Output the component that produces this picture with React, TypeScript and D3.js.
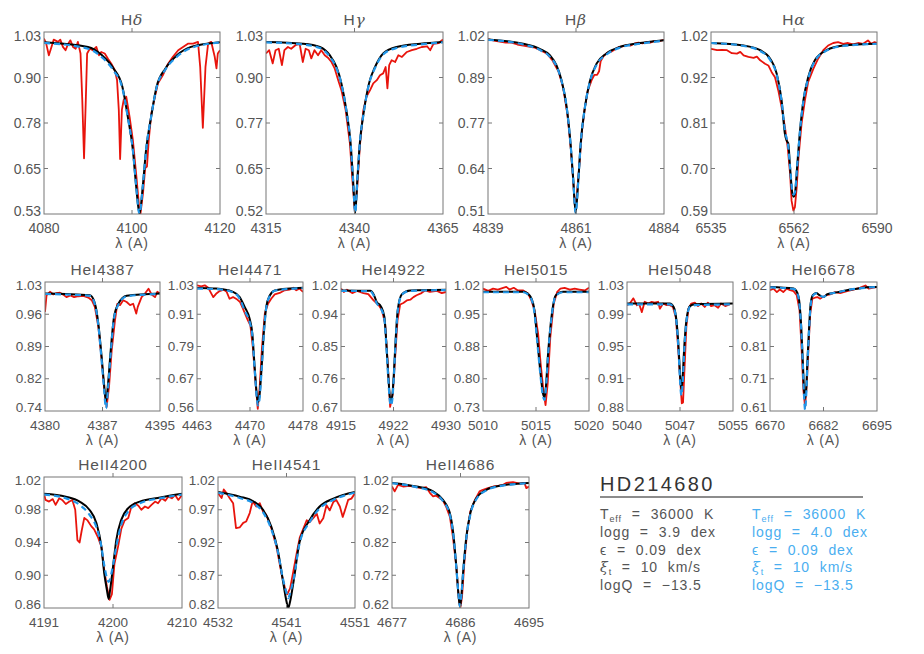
import * as d3 from "d3";

type Pt = [number, number];

// ---- panel labels and axes ----
const TITLES = ["Hδ", "Hγ", "Hβ", "Hα", "HeI4387", "HeI4471", "HeI4922", "HeI5015", "HeI5048", "HeI6678", "HeII4200", "HeII4541", "HeII4686"];

const X_DOMAINS: Pt[] = [
  [4080, 4120], [4315, 4365], [4839, 4884], [6535, 6590],
  [4380, 4395], [4463, 4478], [4915, 4930], [5010, 5020], [5040, 5055], [6670, 6695],
  [4191, 4210], [4532, 4551], [4677, 4695],
];
const Y_DOMAINS: Pt[] = [
  [0.53, 1.03], [0.52, 1.03], [0.51, 1.02], [0.59, 1.02],
  [0.74, 1.03], [0.56, 1.03], [0.67, 1.02], [0.73, 1.02], [0.88, 1.03], [0.61, 1.02],
  [0.86, 1.02], [0.82, 1.02], [0.62, 1.02],
];
const X_TICK_LABELS = [
  ["4080", "4100", "4120"], ["4315", "4340", "4365"], ["4839", "4861", "4884"], ["6535", "6562", "6590"],
  ["4380", "4387", "4395"], ["4463", "4470", "4478"], ["4915", "4922", "4930"], ["5010", "5015", "5020"], ["5040", "5047", "5055"], ["6670", "6682", "6695"],
  ["4191", "4200", "4210"], ["4532", "4541", "4551"], ["4677", "4686", "4695"],
];
const Y_TICK_LABELS = [
  ["0.53", "0.65", "0.78", "0.90", "1.03"], ["0.52", "0.65", "0.77", "0.90", "1.03"], ["0.51", "0.64", "0.77", "0.89", "1.02"], ["0.59", "0.70", "0.81", "0.92", "1.02"],
  ["0.74", "0.82", "0.89", "0.96", "1.03"], ["0.56", "0.67", "0.79", "0.91", "1.03"], ["0.67", "0.76", "0.85", "0.94", "1.02"], ["0.73", "0.80", "0.88", "0.95", "1.02"], ["0.88", "0.91", "0.95", "0.99", "1.03"], ["0.61", "0.71", "0.81", "0.92", "1.02"],
  ["0.86", "0.90", "0.94", "0.98", "1.02"], ["0.82", "0.87", "0.92", "0.97", "1.02"], ["0.62", "0.72", "0.82", "0.92", "1.02"],
];

// ---- observed spectra (red) ----
const OBS_HD: Pt[] = [[4080.0,1.012],[4080.5,0.998],[4081.1,0.966],[4081.7,0.989],[4082.2,1.009],[4083.2,1.003],[4083.7,1.009],[4084.3,0.989],[4084.9,0.98],[4085.5,0.998],[4086.0,1.007],[4086.6,0.989],[4087.2,0.984],[4087.7,1.003],[4088.3,0.971],[4088.7,0.843],[4089.1,0.683],[4089.5,0.843],[4089.8,0.971],[4090.4,0.984],[4091.1,0.98],[4091.9,0.989],[4092.5,0.966],[4093.0,0.975],[4093.8,0.971],[4094.5,0.957],[4095.3,0.943],[4096.1,0.925],[4096.6,0.898],[4097.0,0.816],[4097.3,0.681],[4097.7,0.816],[4098.1,0.843],[4098.7,0.852],[4099.5,0.793],[4100.2,0.733],[4101.0,0.633],[4101.6,0.551],[4101.9,0.528],[4102.5,0.587],[4103.0,0.656],[4103.4,0.66],[4103.8,0.733],[4104.4,0.806],[4105.2,0.852],[4105.9,0.889],[4107.0,0.911],[4108.2,0.943],[4109.3,0.962],[4110.5,0.98],[4111.6,0.989],[4112.7,0.998],[4113.9,0.998],[4115.0,1.003],[4115.5,0.934],[4116.1,0.767],[4116.7,0.934],[4117.3,0.998],[4118.0,1.003],[4118.8,0.962],[4119.2,0.93],[4119.5,0.971],[4120.0,0.98]];
const OBS_HG: Pt[] = [[4315.0,0.97],[4315.9,0.979],[4316.9,0.942],[4317.7,0.979],[4318.6,0.983],[4319.5,0.937],[4320.2,0.979],[4321.2,0.988],[4322.1,0.983],[4323.3,0.993],[4324.5,0.997],[4325.4,0.946],[4326.2,0.983],[4327.1,0.979],[4327.8,0.956],[4328.7,0.979],[4329.7,0.965],[4330.6,0.979],[4331.6,0.965],[4332.5,0.958],[4333.5,0.946],[4334.4,0.928],[4335.4,0.895],[4336.3,0.867],[4337.5,0.811],[4338.7,0.718],[4339.4,0.616],[4340.1,0.527],[4340.8,0.597],[4341.5,0.709],[4342.5,0.811],[4343.4,0.849],[4344.4,0.867],[4345.3,0.886],[4346.3,0.895],[4347.2,0.909],[4348.1,0.914],[4348.8,0.932],[4349.3,0.872],[4349.8,0.937],[4350.5,0.951],[4351.5,0.946],[4352.4,0.965],[4353.4,0.96],[4354.8,0.974],[4356.2,0.979],[4357.6,0.983],[4359.0,0.988],[4360.5,0.99],[4361.4,0.979],[4362.3,0.997],[4363.8,0.999],[4365.0,1.009]];
const OBS_HB: Pt[] = [[4839,1.0],[4840.5,0.996],[4842,0.993],[4843.5,0.99],[4845,0.99],[4846.5,0.985],[4848,0.982],[4849.5,0.979],[4851,0.976],[4852.5,0.968],[4854,0.96],[4855.5,0.94],[4857,0.91],[4858.2,0.865],[4859.3,0.79],[4860.2,0.69],[4860.8,0.6],[4861.2,0.535],[4861.7,0.56],[4862.3,0.64],[4863,0.74],[4863.8,0.81],[4864.5,0.855],[4865.5,0.885],[4866.2,0.9],[4866.9,0.9],[4867.4,0.91],[4867.8,0.938],[4868.5,0.952],[4869.5,0.962],[4870.5,0.965],[4871.5,0.972],[4872.5,0.978],[4873.5,0.98],[4874.5,0.984],[4875.5,0.982],[4876.5,0.988],[4877.5,0.99],[4878.5,0.988],[4879.5,0.992],[4880.5,0.99],[4881.5,0.995],[4882.5,0.994],[4884,0.998]];
const OBS_HA: Pt[] = [[6535,0.98],[6537,0.977],[6538.6,0.978],[6540.3,0.977],[6541.9,0.97],[6543.6,0.969],[6544.7,0.973],[6545.8,0.965],[6547.4,0.961],[6549.1,0.959],[6550.2,0.962],[6551.3,0.953],[6552.9,0.945],[6554,0.941],[6555.1,0.925],[6556.2,0.913],[6557.3,0.882],[6558.4,0.842],[6559.5,0.795],[6560.4,0.748],[6561.2,0.685],[6561.7,0.621],[6562.3,0.598],[6562.8,0.606],[6563.4,0.653],[6564,0.724],[6565,0.803],[6566.1,0.858],[6567.2,0.902],[6568.9,0.933],[6570.5,0.957],[6572.2,0.977],[6573.8,0.988],[6575.5,0.994],[6577.1,0.996],[6578.8,0.992],[6580.4,0.994],[6582.1,0.991],[6583.7,0.994],[6585.4,0.992],[6587,1.0],[6588.1,0.992],[6589.2,0.996],[6590,0.994]];
const OBS_4387: Pt[] = [[4380,0.963],[4380.2,1.0],[4380.65,1.008],[4381.1,1.002],[4381.5,1.005],[4381.95,1.006],[4382.5,1.0],[4382.8,0.996],[4383.3,1.0],[4383.8,0.996],[4384.35,0.998],[4385,0.999],[4385.65,0.995],[4386.1,0.989],[4386.5,0.974],[4386.96,0.929],[4387.4,0.854],[4387.74,0.786],[4388.04,0.749],[4388.35,0.794],[4388.7,0.876],[4389.13,0.944],[4389.43,0.981],[4389.78,0.978],[4390.2,0.989],[4390.65,0.985],[4391.1,0.978],[4391.5,0.981],[4391.9,0.959],[4392.1,0.974],[4392.6,0.996],[4393.04,1.004],[4393.5,1.015],[4393.9,1.002],[4394.35,0.996],[4394.65,1.008],[4395,1.004]];
const OBS_4471: Pt[] = [[4463,1.018],[4463.6,1.014],[4464.1,1.018],[4464.6,1.009],[4464.9,0.994],[4465.3,0.975],[4465.7,0.987],[4466.2,0.997],[4466.8,1.002],[4467.2,0.994],[4467.6,0.969],[4468.1,0.975],[4468.7,0.966],[4469.1,0.957],[4469.5,0.933],[4469.9,0.908],[4470.2,0.89],[4470.55,0.872],[4470.9,0.793],[4471.25,0.672],[4471.6,0.568],[4471.87,0.647],[4472.2,0.793],[4472.6,0.915],[4473.05,0.951],[4473.5,0.969],[4474,0.985],[4474.7,0.99],[4475.4,1.0],[4476.1,1.002],[4476.6,1.009],[4477.05,1.0],[4477.5,1.006],[4478,0.994]];
const OBS_4922: Pt[] = [[4915,1.002],[4915.4,0.993],[4915.85,0.999],[4916.6,0.99],[4917.3,0.996],[4918.2,0.99],[4918.9,0.987],[4919.65,0.97],[4920.4,0.957],[4920.85,0.943],[4921.3,0.907],[4921.65,0.808],[4922.02,0.681],[4922.4,0.717],[4922.74,0.817],[4923.07,0.916],[4923.45,0.959],[4923.9,0.963],[4924.4,0.97],[4924.9,0.972],[4925.35,0.979],[4925.8,0.984],[4926.5,0.99],[4927,0.997],[4927.7,0.993],[4928.7,0.996],[4929.4,0.99],[4930,0.993]];
const OBS_5015: Pt[] = [[5010,1.005],[5010.5,1.0],[5010.95,1.005],[5011.4,1.003],[5011.9,1.007],[5012.2,1.009],[5012.5,1.003],[5012.9,1.007],[5013.3,1.001],[5013.8,1.001],[5014.25,0.994],[5014.56,0.979],[5014.87,0.956],[5015.2,0.904],[5015.44,0.836],[5015.7,0.776],[5015.9,0.743],[5016.1,0.791],[5016.35,0.896],[5016.67,0.971],[5017,0.998],[5017.3,1.005],[5017.7,1.007],[5018.2,1.003],[5018.65,1.005],[5019.1,1.003],[5019.6,1.001],[5020,1.007]];
const OBS_5048: Pt[] = [[5040,1.003],[5040.4,1.005],[5040.9,1.011],[5041.4,1.003],[5041.7,1.005],[5042.1,0.995],[5042.5,1.007],[5043,1.005],[5043.5,1.007],[5043.9,1.006],[5044.4,1.007],[5044.65,0.999],[5045.1,1.005],[5045.6,1.003],[5046.06,1.003],[5046.5,1.001],[5046.9,0.989],[5047.2,0.958],[5047.56,0.912],[5047.75,0.889],[5047.93,0.89],[5048.17,0.935],[5048.4,0.978],[5048.7,0.999],[5049.1,1.005],[5049.6,1.006],[5050.05,1.002],[5050.5,1.005],[5051,1.001],[5051.45,1.006],[5051.9,1.002],[5052.4,1.003],[5052.9,1.0],[5053.3,1.005],[5053.9,1.002],[5054.5,1.004]];
const OBS_6678: Pt[] = [[6670,0.994],[6670.8,0.999],[6671.6,0.988],[6672.3,0.996],[6673.1,0.988],[6673.9,0.999],[6674.7,0.994],[6675.5,0.991],[6676.25,0.978],[6676.9,0.93],[6677.4,0.803],[6677.8,0.676],[6678.2,0.623],[6678.6,0.697],[6679,0.813],[6679.4,0.919],[6679.9,0.967],[6680.5,0.97],[6681.1,0.972],[6681.7,0.967],[6682.3,0.972],[6683.1,0.978],[6684.1,0.981],[6685.2,0.988],[6686.4,0.985],[6688,0.991],[6689.5,0.996],[6691.1,1.002],[6692.3,1.009],[6693.05,0.999],[6694.2,1.002],[6695,1.004]];
const OBS_4200: Pt[] = [[4191,1.0],[4191.2,0.992],[4191.7,0.99],[4192.2,0.993],[4192.6,0.986],[4193.1,0.994],[4193.5,0.992],[4194,0.987],[4194.5,0.99],[4194.9,0.992],[4195.3,0.98],[4195.6,0.943],[4195.9,0.94],[4196.2,0.955],[4196.55,0.97],[4197,0.967],[4197.5,0.96],[4197.9,0.956],[4198.4,0.947],[4198.9,0.935],[4199.3,0.906],[4199.66,0.886],[4200.03,0.87],[4200.35,0.877],[4200.7,0.914],[4201.2,0.935],[4201.65,0.957],[4202.1,0.967],[4202.6,0.97],[4203.04,0.984],[4203.5,0.988],[4204,0.985],[4204.4,0.98],[4204.9,0.984],[4205.35,0.982],[4205.8,0.986],[4206.3,0.99],[4206.7,0.988],[4207.2,0.994],[4207.7,0.991],[4208.1,0.996],[4208.6,0.994],[4209.05,0.998],[4209.5,0.992],[4210,0.998]];
const OBS_4541: Pt[] = [[4532,0.995],[4532.5,0.988],[4532.8,1.001],[4533.2,0.995],[4533.6,0.988],[4534.1,0.98],[4534.5,0.942],[4535,0.943],[4535.5,0.95],[4535.9,0.952],[4536.4,0.965],[4536.8,0.983],[4537.3,0.975],[4537.8,0.98],[4538.25,0.967],[4538.7,0.962],[4539.4,0.942],[4540.1,0.914],[4540.8,0.873],[4541.3,0.85],[4541.6,0.841],[4542,0.85],[4542.4,0.873],[4542.9,0.903],[4543.35,0.928],[4544.3,0.954],[4544.7,0.951],[4545.2,0.957],[4545.7,0.964],[4546.1,0.949],[4546.6,0.957],[4547.05,0.977],[4547.5,0.969],[4548,0.982],[4548.4,0.985],[4548.9,0.975],[4549.3,0.959],[4549.6,0.969],[4550.05,0.985],[4550.5,0.987],[4551,0.995]];
const OBS_4686: Pt[] = [[4677,0.991],[4677.35,0.976],[4677.8,0.996],[4678.45,0.991],[4679.3,0.993],[4680.2,0.989],[4680.85,0.986],[4681.5,0.989],[4682,0.971],[4682.4,0.961],[4682.8,0.963],[4683.25,0.956],[4683.7,0.948],[4684.1,0.93],[4684.6,0.899],[4685,0.838],[4685.45,0.746],[4685.8,0.644],[4686,0.623],[4686.2,0.654],[4686.5,0.756],[4686.85,0.848],[4687.3,0.915],[4687.9,0.95],[4688.5,0.976],[4688.95,0.981],[4689.6,0.986],[4690.3,0.991],[4690.9,0.993],[4691.6,0.996],[4692,1.002],[4692.9,1.004],[4693.8,1.0],[4694.4,1.002],[4694.65,0.986],[4695,0.991]];

// ---- model 1 (black): logg = 3.9 ----
const MOD1_HD: Pt[] = [[4080,1.002],[4090,0.989],[4093.2,0.966],[4095.8,0.93],[4097.8,0.88],[4099.05,0.797],[4100.2,0.706],[4100.95,0.606],[4101.7,0.53],[4102.45,0.606],[4103.2,0.706],[4104.35,0.797],[4105.6,0.88],[4107.6,0.93],[4110.2,0.966],[4113.4,0.989],[4120,1.002]];
const MOD1_HG: Pt[] = [[4315,1.002],[4325.4,0.997],[4330.2,0.988],[4333.0,0.965],[4334.9,0.932],[4336.3,0.886],[4337.7,0.811],[4338.9,0.718],[4339.6,0.616],[4340.2,0.523],[4340.8,0.616],[4341.5,0.718],[4342.7,0.811],[4344.1,0.886],[4345.8,0.932],[4348.1,0.97],[4351.9,0.988],[4358.6,0.997],[4365,1.002]];
const MOD1_HB: Pt[] = [[4839,0.999],[4848,0.987],[4852.2,0.973],[4854.8,0.955],[4856.5,0.927],[4857.8,0.885],[4859.1,0.811],[4860.1,0.708],[4860.8,0.606],[4861.4,0.513],[4862.1,0.606],[4862.7,0.708],[4863.8,0.811],[4865,0.88],[4866.8,0.932],[4869.3,0.96],[4872.7,0.978],[4877.9,0.989],[4884,0.997]];
const MOD1_HA: Pt[] = [[6535,0.994],[6545.8,0.988],[6551.3,0.977],[6554.6,0.957],[6556.8,0.921],[6558.4,0.858],[6559.5,0.779],[6560.1,0.763],[6560.6,0.757],[6561.2,0.7],[6562,0.637],[6562.4,0.631],[6562.8,0.637],[6563.6,0.708],[6564.5,0.787],[6565.6,0.858],[6567.2,0.913],[6569.4,0.953],[6573.3,0.977],[6578.8,0.988],[6590,0.992]];
const MOD1_4387: Pt[] = [[4380,1.004],[4385.87,1.0],[4386.52,0.981],[4386.96,0.936],[4387.39,0.861],[4387.7,0.801],[4387.96,0.762],[4388.22,0.801],[4388.57,0.876],[4389.0,0.951],[4389.57,0.981],[4390.65,0.999],[4395,1.004]];
const MOD1_4471: Pt[] = [[4463,1.008],[4465.7,1.006],[4468.1,0.994],[4469.04,0.975],[4469.75,0.939],[4470.45,0.896],[4470.83,0.842],[4471.16,0.72],[4471.5,0.611],[4471.63,0.593],[4471.82,0.611],[4472.15,0.72],[4472.48,0.854],[4472.8,0.939],[4473.3,0.981],[4474,0.999],[4476.1,1.006],[4478,1.009]];
const MOD1_4922: Pt[] = [[4915,0.997],[4919.2,0.996],[4919.65,0.987],[4920.1,0.966],[4920.7,0.954],[4921.2,0.925],[4921.45,0.862],[4921.74,0.771],[4921.98,0.708],[4922.12,0.699],[4922.3,0.708],[4922.55,0.771],[4922.8,0.862],[4923.1,0.943],[4923.7,0.987],[4924.9,0.997],[4930,0.999]];
const MOD1_5015: Pt[] = [[5010,0.998],[5013.8,0.998],[5014.4,0.99],[5014.8,0.964],[5015.1,0.896],[5015.4,0.821],[5015.66,0.769],[5015.8,0.761],[5015.9,0.776],[5016.16,0.866],[5016.5,0.949],[5016.86,0.99],[5017.55,0.998],[5020,0.998]];
const MOD1_5048: Pt[] = [[5040,1.005],[5046.06,1.005],[5046.6,1.001],[5047,0.985],[5047.3,0.954],[5047.5,0.923],[5047.7,0.905],[5047.9,0.923],[5048.1,0.954],[5048.4,0.985],[5048.9,1.002],[5049.6,1.004],[5055,1.005]];
const MOD1_6678: Pt[] = [[6670,1.004],[6675.5,0.999],[6676.4,0.985],[6676.9,0.951],[6677.3,0.877],[6677.66,0.771],[6677.97,0.676],[6678.2,0.649],[6678.44,0.676],[6678.75,0.771],[6679.14,0.877],[6679.5,0.951],[6680,0.978],[6680.8,0.985],[6681.56,0.978],[6682.5,0.972],[6683.4,0.981],[6684.8,0.985],[6686.4,0.989],[6688.75,0.996],[6691.1,1.0],[6693.4,1.004],[6695,1.004]];
const MOD1_4200: Pt[] = [[4191,0.9995],[4194,0.996],[4195.9,0.99],[4197.25,0.98],[4198.2,0.964],[4198.9,0.935],[4199.3,0.902],[4199.66,0.882],[4199.9,0.871],[4200.1,0.882],[4200.5,0.91],[4200.95,0.943],[4201.65,0.968],[4202.6,0.982],[4204.2,0.99],[4207,0.995],[4210,0.9995]];
const MOD1_4541: Pt[] = [[4532,0.997],[4535,0.99],[4536.9,0.983],[4538.25,0.97],[4539.4,0.944],[4540.3,0.908],[4541,0.862],[4541.5,0.83],[4541.75,0.82],[4542.0,0.83],[4542.5,0.862],[4543.3,0.92],[4544.7,0.954],[4546.1,0.975],[4548,0.987],[4551,0.997]];
const MOD1_4686: Pt[] = [[4677,1.002],[4680.2,0.991],[4682.4,0.976],[4683.7,0.95],[4684.6,0.91],[4685.1,0.838],[4685.45,0.746],[4685.76,0.654],[4685.94,0.623],[4686.1,0.654],[4686.4,0.746],[4686.77,0.838],[4687.3,0.91],[4688.1,0.956],[4689.4,0.981],[4691.15,0.993],[4695,1.002]];

// ---- model 2 (blue, dashed): logg = 4.0 ----
const MOD2_HD: Pt[] = [[4080,1.0],[4090,0.984],[4093.2,0.96],[4095.8,0.924],[4097.8,0.876],[4099.05,0.795],[4100.2,0.705],[4100.95,0.606],[4101.7,0.53],[4102.45,0.606],[4103.2,0.706],[4104.35,0.797],[4105.6,0.878],[4107.6,0.927],[4110.2,0.962],[4113.4,0.986],[4120,1.001]];
const MOD2_HG: Pt[] = [[4315,1.001],[4325.4,0.995],[4330.2,0.985],[4333.0,0.961],[4334.9,0.929],[4336.3,0.884],[4337.7,0.81],[4338.9,0.717],[4339.6,0.616],[4340.2,0.523],[4340.8,0.616],[4341.5,0.717],[4342.7,0.81],[4344.1,0.884],[4345.8,0.929],[4348.1,0.967],[4351.9,0.985],[4358.6,0.995],[4365,1.001]];
const MOD2_HB: Pt[] = [[4839,0.998],[4848,0.985],[4852.2,0.97],[4854.8,0.951],[4856.5,0.924],[4857.8,0.883],[4859.1,0.81],[4860.1,0.707],[4860.8,0.606],[4861.4,0.513],[4862.1,0.606],[4862.7,0.707],[4863.8,0.81],[4865,0.878],[4866.8,0.929],[4869.3,0.957],[4872.7,0.976],[4877.9,0.987],[4884,0.996]];
const MOD2_HA: Pt[] = [[6535,0.994],[6545.8,0.987],[6551.3,0.975],[6554.6,0.954],[6556.8,0.918],[6558.4,0.856],[6559.5,0.787],[6560.6,0.748],[6561.2,0.7],[6562,0.641],[6562.4,0.636],[6562.8,0.641],[6563.6,0.708],[6564.5,0.787],[6565.6,0.856],[6567.2,0.91],[6569.4,0.951],[6573.3,0.976],[6578.8,0.987],[6590,0.992]];
const MOD2_4387: Pt[] = [[4380,1.003],[4385.87,0.999],[4386.52,0.979],[4386.96,0.932],[4387.39,0.852],[4387.7,0.79],[4387.96,0.746],[4388.22,0.79],[4388.57,0.87],[4389.0,0.948],[4389.57,0.979],[4390.65,0.998],[4395,1.003]];
const MOD2_4471: Pt[] = [[4463,1.006],[4465.7,1.004],[4468.1,0.992],[4469.04,0.969],[4469.75,0.925],[4470.45,0.884],[4470.83,0.835],[4471.16,0.712],[4471.5,0.598],[4471.63,0.58],[4471.82,0.598],[4472.15,0.712],[4472.48,0.85],[4472.8,0.936],[4473.3,0.979],[4474,0.998],[4476.1,1.005],[4478,1.008]];
const MOD2_4922: Pt[] = [[4915,0.996],[4919.2,0.995],[4919.65,0.984],[4920.1,0.962],[4920.7,0.948],[4921.2,0.918],[4921.45,0.855],[4921.74,0.762],[4921.98,0.697],[4922.12,0.685],[4922.3,0.697],[4922.55,0.762],[4922.8,0.855],[4923.1,0.94],[4923.7,0.986],[4924.9,0.996],[4930,0.998]];
const MOD2_5015: Pt[] = [[5010,0.997],[5013.8,0.997],[5014.4,0.988],[5014.8,0.96],[5015.1,0.89],[5015.4,0.815],[5015.66,0.763],[5015.8,0.755],[5015.9,0.77],[5016.16,0.862],[5016.5,0.947],[5016.86,0.989],[5017.55,0.997],[5020,0.997]];
const MOD2_5048: Pt[] = [[5040,1.004],[5046.06,1.004],[5046.6,1.0],[5047,0.983],[5047.3,0.95],[5047.5,0.916],[5047.7,0.898],[5047.9,0.916],[5048.1,0.95],[5048.4,0.983],[5048.9,1.001],[5049.6,1.003],[5055,1.004]];
const MOD2_6678: Pt[] = [[6670,1.003],[6675.5,0.998],[6676.4,0.983],[6676.9,0.946],[6677.3,0.868],[6677.66,0.758],[6677.97,0.655],[6678.2,0.614],[6678.44,0.655],[6678.75,0.758],[6679.14,0.868],[6679.5,0.946],[6680,0.976],[6680.8,0.984],[6681.56,0.978],[6682.5,0.973],[6683.4,0.981],[6684.8,0.985],[6686.4,0.989],[6688.75,0.996],[6691.1,1.0],[6693.4,1.003],[6695,1.004]];
const MOD2_4200: Pt[] = [[4191,0.9985],[4194,0.994],[4195.9,0.986],[4197.25,0.974],[4198.2,0.959],[4198.9,0.935],[4199.3,0.912],[4199.9,0.892],[4200.5,0.912],[4200.95,0.935],[4201.65,0.962],[4202.6,0.978],[4204.2,0.988],[4207,0.994],[4210,0.9985]];
const MOD2_4541: Pt[] = [[4532,0.996],[4535,0.988],[4536.9,0.98],[4538.25,0.966],[4539.4,0.94],[4540.3,0.906],[4541,0.865],[4541.5,0.843],[4541.75,0.835],[4542.0,0.843],[4542.5,0.865],[4543.3,0.918],[4544.7,0.951],[4546.1,0.972],[4548,0.985],[4551,0.996]];
const MOD2_4686: Pt[] = [[4677,1.001],[4680.2,0.989],[4682.4,0.973],[4683.7,0.946],[4684.6,0.905],[4685.1,0.834],[4685.45,0.744],[4685.76,0.655],[4685.94,0.625],[4686.1,0.655],[4686.4,0.744],[4686.77,0.834],[4687.3,0.906],[4688.1,0.953],[4689.4,0.979],[4691.15,0.992],[4695,1.001]];

const OBS = [OBS_HD, OBS_HG, OBS_HB, OBS_HA, OBS_4387, OBS_4471, OBS_4922, OBS_5015, OBS_5048, OBS_6678, OBS_4200, OBS_4541, OBS_4686];
const MOD1 = [MOD1_HD, MOD1_HG, MOD1_HB, MOD1_HA, MOD1_4387, MOD1_4471, MOD1_4922, MOD1_5015, MOD1_5048, MOD1_6678, MOD1_4200, MOD1_4541, MOD1_4686];
const MOD2 = [MOD2_HD, MOD2_HG, MOD2_HB, MOD2_HA, MOD2_4387, MOD2_4471, MOD2_4922, MOD2_5015, MOD2_5048, MOD2_6678, MOD2_4200, MOD2_4541, MOD2_4686];

// ---- legend text ----
const STAR = "HD214680";
const PARAMS_1 = ["36000 K", "3.9 dex", "0.09 dex", "10 km/s", "−13.5"];
const PARAMS_2 = ["36000 K", "4.0 dex", "0.09 dex", "10 km/s", "−13.5"];

// ---- layout: [left, right, top, bottom] of every frame ----
const FRAMES = [
  [44, 220, 32, 214], [266, 443, 32, 214], [488, 664, 32, 214], [711, 877, 32, 214],
  [45, 160, 282, 411], [197, 303, 282, 411], [341, 446, 282, 411], [483, 589, 282, 411], [627, 733, 282, 411], [770, 877, 282, 411],
  [44, 182, 477, 608], [218, 355, 477, 608], [392, 529, 477, 608],
];

const FONT = "'Liberation Sans', Arial, sans-serif";
const TXT = "#555";
const AX = "#777";
const RED = "#e8140c";
const BLUE = "#2196e8";
const LBLUE = "#4aaef0";

const Title = ({ t }: { t: string }) => {
  const m = t.match(/^H([αβγδ])$/);
  if (m) return <>H<tspan fontStyle="italic" fontFamily="'DejaVu Serif', serif">{m[1]}</tspan></>;
  return <>{t}</>;
};

const Panel = ({ i }: { i: number }) => {
  const [x0, x1, y0, y1] = FRAMES[i];
  const xd = X_DOMAINS[i];
  const yd = Y_DOMAINS[i];
  const x = d3.scaleLinear().domain(xd).range([x0, x1]);
  const y = d3.scaleLinear().domain(yd).range([y1, y0]);
  const line = d3.line<Pt>().x((d) => x(d[0])).y((d) => y(d[1]));
  const smooth = d3.line<Pt>().x((d) => x(d[0])).y((d) => y(d[1])).curve(d3.curveMonotoneX);
  const yVals = d3.range(5).map((k) => yd[0] + (k * (yd[1] - yd[0])) / 4);
  const xVals = [xd[0], (xd[0] + xd[1]) / 2, xd[1]];
  const fs = i < 4 ? 14 : 13.5;
  const cx = (x0 + x1) / 2;
  return (
    <g>
      <defs>
        <clipPath id={`clip${i}`}>
          <rect x={x0} y={y0} width={x1 - x0} height={y1 - y0} />
        </clipPath>
      </defs>
      <g clipPath={`url(#clip${i})`} fill="none" strokeLinejoin="round">
        <path d={line(OBS[i]) || ""} stroke={RED} strokeWidth={1.8} />
        <path d={smooth(MOD1[i]) || ""} stroke="#000" strokeWidth={2} />
        <path d={smooth(MOD2[i]) || ""} stroke={BLUE} strokeWidth={2.2} strokeDasharray="6 4" />
      </g>
      <rect x={x0} y={y0} width={x1 - x0} height={y1 - y0} fill="none" stroke={AX} strokeWidth={1} />
      {yVals.slice(1, 4).map((v, k) => (
        <g key={k} stroke={AX}>
          <line x1={x0} x2={x0 + 4} y1={y(v)} y2={y(v)} />
          <line x1={x1} x2={x1 - 4} y1={y(v)} y2={y(v)} />
        </g>
      ))}
      <line x1={x(xVals[1])} x2={x(xVals[1])} y1={y1} y2={y1 - 4} stroke={AX} />
      <line x1={x(xVals[1])} x2={x(xVals[1])} y1={y0} y2={y0 - 4} stroke={AX} />
      <g fontFamily={FONT} fill={TXT} fontSize={fs}>
        {yVals.map((v, k) => (
          <text key={k} x={x0 - 3} y={y(v) + (k === 0 ? -3.5 : k === 4 ? 3.5 : 0)} textAnchor="end" dominantBaseline="central">
            {Y_TICK_LABELS[i][k]}
          </text>
        ))}
        {xVals.map((v, k) => (
          <text key={k} x={x(v)} y={y1 + 18.5} textAnchor="middle">
            {X_TICK_LABELS[i][k]}
          </text>
        ))}
        <text x={cx} y={y1 + 34} textAnchor="middle" fontSize={14} letterSpacing={0.8}>λ (A)</text>
        <text x={cx} y={y0 - 7.5} textAnchor="middle" fontSize={15.5} letterSpacing={0.8}>
          <Title t={TITLES[i]} />
        </text>
      </g>
    </g>
  );
};

const Legend = () => {
  const rows = (vals: string[], x: number, color: string) => {
    const names = [
      <>T<tspan fontSize={9} dy={3}>eff</tspan><tspan dy={-3}> = </tspan></>,
      <>logg = </>,
      <>ϵ = </>,
      <><tspan fontStyle="italic" fontFamily="'DejaVu Serif', serif">ξ</tspan><tspan fontSize={9} dy={3}>t</tspan><tspan dy={-3}> = </tspan></>,
      <>logQ = </>,
    ];
    return vals.map((v, k) => (
      <text key={k} x={x} y={519 + k * 17.8} fill={color} style={{ wordSpacing: "5px" }}>
        {names[k]}{v}
      </text>
    ));
  };
  return (
    <g fontFamily={FONT} fontSize={14} letterSpacing={0.9}>
      <text x={600} y={491} fontSize={20} fill="#333" letterSpacing={2.4}>{STAR}</text>
      <line x1={600} x2={863} y1={497} y2={497} stroke="#666" strokeWidth={1.4} />
      {rows(PARAMS_1, 600, TXT)}
      {rows(PARAMS_2, 752, LBLUE)}
    </g>
  );
};

export default function App() {
  return (
    <svg width={924} height={654} style={{ position: "absolute", left: 0, top: 0, background: "#fff" }}>
      {TITLES.map((_, i) => (
        <Panel key={i} i={i} />
      ))}
      <Legend />
    </svg>
  );
}
